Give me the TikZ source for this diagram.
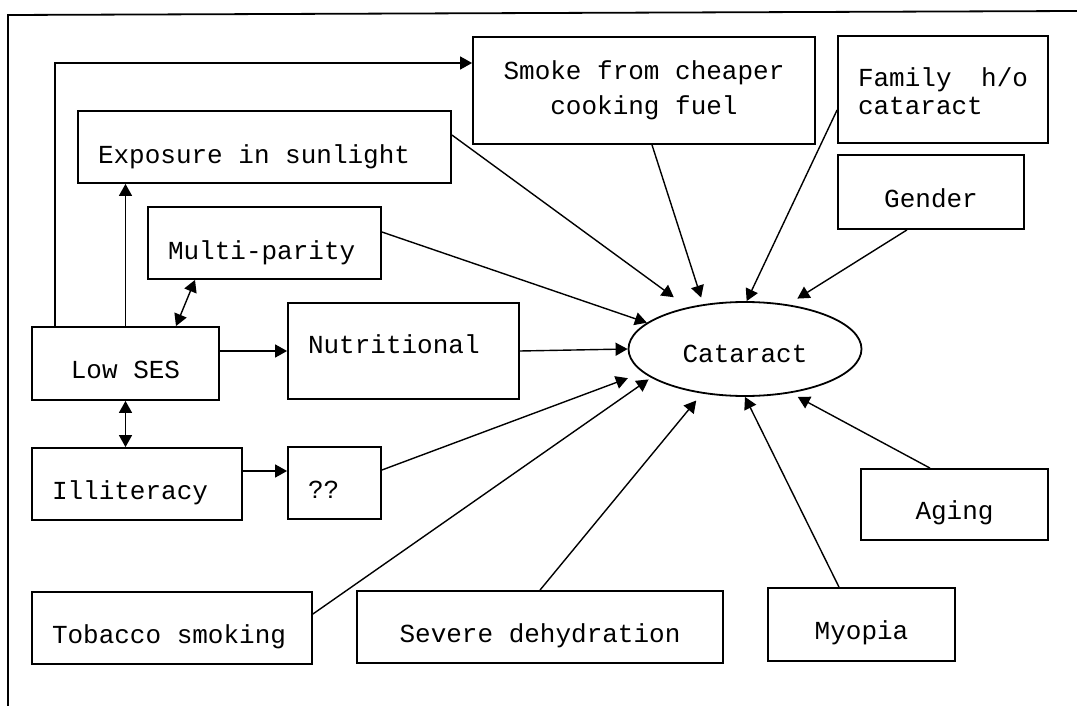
\documentclass[tikz,border=0pt]{standalone}
\usepackage{fontspec}
\newfontfamily\monofont{Liberation Mono}
\usetikzlibrary{shapes.geometric,arrows.meta}

\begin{document}
\begin{tikzpicture}[x=0.5pt,y=-0.5pt,>={Triangle[length=6pt,width=6.5pt]},
        box/.style={rectangle, draw, line width=0.9pt, inner sep=0pt, font=\monofont\fontsize{13pt}{16pt}\selectfont, text height=15pt, text depth=0pt},
        leftbox/.style={box, align=flush left, inner xsep=10pt},
        arrow/.style={->, line width=0.7pt}]
        \useasboundingbox (0,0) rectangle (1077,706);
        %Frame
        \draw[line width=0.9pt] (8,706) -- (8,15) -- (1077,11);
        %Nodes
        \node[box, minimum width=171pt, minimum height=53.5pt, align=center, font=\monofont\fontsize{13pt}{17.5pt}\selectfont, text height=24pt, text depth=0pt] (smoke) at (644,90.5) {Smoke from cheaper\\cooking fuel};
        \node[leftbox, text width=85pt, minimum height=53.5pt, font=\monofont\fontsize{13pt}{14pt}\selectfont, text height=5pt, text depth=7.5pt] (fam) at (943,89.5) {Family~~h/o\\cataract};
        \node[leftbox, text width=166.5pt, minimum height=36pt, text height=16pt] (expo) at (264.5,147) {Exposure in sunlight};
        \node[box, minimum width=93pt, minimum height=37pt] (gen) at (931,192) {Gender};
        \node[leftbox, text width=96.5pt, minimum height=36pt, text height=16pt] (multi) at (264.5,243) {Multi-parity};
        \node[leftbox, text width=95.5pt, minimum height=48pt, text height=2pt] (nutr) at (403.5,351) {Nutritional};
        \node[box, minimum width=93.5pt, minimum height=36.5pt] (low) at (125.5,363.5) {Low SES};
        \node[ellipse, draw, line width=0.9pt, inner sep=0pt, minimum width=116.5pt, minimum height=47pt, font=\monofont\fontsize{13pt}{16pt}\selectfont, text height=13pt, text depth=0pt] (cat) at (745,349) {Cataract};
        \node[leftbox, text width=85pt, minimum height=36pt] (illit) at (137,484) {Illiteracy};
        \node[leftbox, text width=26.5pt, minimum height=36pt] (qq) at (334.5,483) {??};
        \node[box, minimum width=93.5pt, minimum height=35.5pt] (aging) at (954.5,504.5) {Aging};
        \node[leftbox, text width=120pt, minimum height=36pt] (tob) at (172,628) {Tobacco smoking};
        \node[box, minimum width=183pt, minimum height=36pt] (dehyd) at (540,627) {Severe dehydration};
        \node[box, minimum width=93.5pt, minimum height=36.5pt] (myo) at (861.5,624.5) {Myopia};
        %Lines
        \draw[arrow] ([xshift=-35.25pt]low.north) |- ([yshift=13.75pt]smoke.west);
        \draw[arrow] (low.north) -- (low.north |- expo.south);
        \draw[arrow, <->] ([xshift=25.25pt]low.north) -- ([xshift=-34.75pt]multi.south);
        \draw[arrow] (low.east |- nutr.west) -- (nutr.west);
        \draw[arrow, <->] (low.south) -- (low.south |- illit.north);
        \draw[arrow] ([yshift=6.5pt]illit.east) -- ([yshift=6.5pt]illit.east -| qq.west);
        \draw[arrow, shorten >=8.5pt] ([yshift=6pt]expo.east) -- (cat.144);
        \draw[arrow, shorten >=3.5pt] ([xshift=4pt]smoke.south) -- (cat.133);
        \draw[arrow] ([yshift=-10.25pt]fam.west) -- (cat.88);
        \draw[arrow, shorten >=5.5pt] ([xshift=-12pt]gen.south) -- (cat.46);
        \draw[arrow] ([yshift=5.5pt]multi.east) -- (cat.165);
        \draw[arrow] (nutr.east) -- (cat.west);
        \draw[arrow, shorten >=8pt] ([yshift=6.5pt]qq.east) -- (cat.193);
        \draw[arrow, shorten >=1.5pt] ([yshift=7pt]tob.east) -- (cat.197);
        \draw[arrow, shorten >=4.5pt] (dehyd.north) -- (cat.226);
        \draw[arrow] ([xshift=-11.25pt]myo.north) -- (cat.south);
        \draw[arrow, shorten >=4pt] ([xshift=-12.25pt]aging.north) -- (cat.316);
    \end{tikzpicture}
\end{document}
